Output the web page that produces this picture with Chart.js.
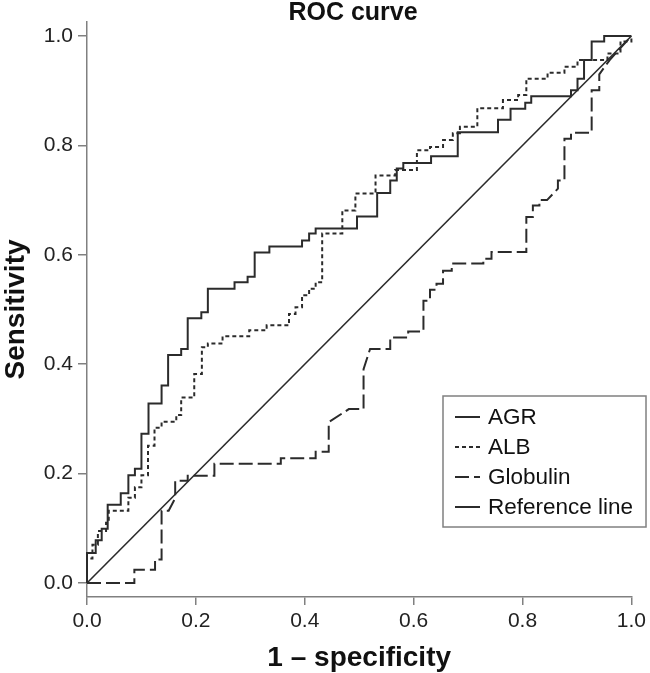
<!DOCTYPE html>
<html>
<head>
<meta charset="utf-8">
<script src="https://cdn.jsdelivr.net/npm/chart.js@4"></script>
<style>
html,body{margin:0;padding:0;background:#fff;}
canvas{display:block;}
</style>
</head>
<body>
<canvas id="c" width="650" height="673"></canvas>
<script>
// ---- data ----
const chartTitle = "ROC curve";
const xTitle = "1 \u2013 specificity";
const yTitle = "Sensitivity";
const tickValues = [0, 0.2, 0.4, 0.6, 0.8, 1.0];

// AGR: ROC steps (1-specificity where the rise occurs, sensitivity after the rise)
const agrX = [0, 0, 0.016, 0.027, 0.038, 0.062, 0.076, 0.088, 0.100, 0.113, 0.137, 0.149, 0.173, 0.185, 0.210, 0.222, 0.271, 0.295, 0.308, 0.335, 0.395, 0.408, 0.420, 0.496, 0.533, 0.557, 0.569, 0.581, 0.632, 0.681, 0.755, 0.778, 0.805, 0.816, 0.889, 0.901, 0.913, 0.927, 0.950, 1.0];
const agrY = [0, 0.055, 0.078, 0.099, 0.143, 0.164, 0.197, 0.209, 0.273, 0.328, 0.361, 0.417, 0.428, 0.484, 0.495, 0.538, 0.550, 0.560, 0.604, 0.615, 0.626, 0.639, 0.648, 0.670, 0.713, 0.736, 0.758, 0.768, 0.780, 0.824, 0.847, 0.867, 0.878, 0.890, 0.901, 0.922, 0.956, 0.990, 1.0, 1.0];

// ALB
const albX = [0, 0, 0.01, 0.02, 0.035, 0.04, 0.076, 0.088, 0.100, 0.112, 0.124, 0.137, 0.164, 0.173, 0.197, 0.211, 0.222, 0.249, 0.298, 0.33, 0.371, 0.383, 0.395, 0.408, 0.420, 0.432, 0.469, 0.493, 0.530, 0.566, 0.606, 0.630, 0.654, 0.672, 0.685, 0.717, 0.764, 0.792, 0.807, 0.846, 0.877, 0.901, 0.956, 0.98, 1.0];
const albY = [0, 0.045, 0.07, 0.095, 0.11, 0.132, 0.156, 0.175, 0.197, 0.251, 0.284, 0.295, 0.307, 0.339, 0.382, 0.431, 0.438, 0.451, 0.462, 0.471, 0.492, 0.504, 0.526, 0.538, 0.55, 0.639, 0.681, 0.712, 0.745, 0.755, 0.791, 0.797, 0.81, 0.822, 0.834, 0.868, 0.883, 0.892, 0.922, 0.933, 0.944, 0.956, 0.968, 0.99, 1.0];

// Globulin: corner points of the curve (includes tied diagonal pieces)
const gloX = [0, 0.087, 0.087, 0.125, 0.125, 0.137, 0.137, 0.150, 0.162, 0.162, 0.185, 0.185, 0.234, 0.234, 0.356, 0.356, 0.420, 0.420, 0.444, 0.444, 0.481, 0.508, 0.508, 0.520, 0.557, 0.557, 0.590, 0.590, 0.618, 0.618, 0.630, 0.630, 0.642, 0.642, 0.654, 0.654, 0.670, 0.670, 0.728, 0.728, 0.743, 0.743, 0.807, 0.807, 0.819, 0.819, 0.831, 0.831, 0.845, 0.865, 0.865, 0.877, 0.877, 0.889, 0.889, 0.927, 0.927, 0.941, 0.941, 0.96, 1.0];
const gloY = [0, 0, 0.024, 0.024, 0.043, 0.043, 0.132, 0.132, 0.155, 0.187, 0.187, 0.196, 0.196, 0.218, 0.218, 0.228, 0.228, 0.240, 0.240, 0.294, 0.318, 0.318, 0.391, 0.428, 0.428, 0.449, 0.449, 0.46, 0.46, 0.516, 0.516, 0.536, 0.536, 0.547, 0.547, 0.571, 0.571, 0.584, 0.584, 0.593, 0.593, 0.605, 0.605, 0.669, 0.669, 0.69, 0.69, 0.70, 0.70, 0.721, 0.736, 0.736, 0.812, 0.812, 0.823, 0.823, 0.901, 0.901, 0.93, 0.956, 1.0];

// Reference line
const refX = [0, 1];
const refY = [0, 1];

const seriesLabels = ["AGR", "ALB", "Globulin", "Reference line"];

// ---- chart ----
const pts = (xs, ys) => xs.map((x, i) => ({x: x, y: ys[i]}));
const INK = '#2b2b2b';
const AXIS = '#808080';
const FONT = "'Liberation Sans', Arial, sans-serif";

const datasets = [
  {label: seriesLabels[0], data: pts(agrX, agrY), stepped: 'before', borderColor: INK, borderWidth: 2, borderDash: []},
  {label: seriesLabels[1], data: pts(albX, albY), stepped: 'before', borderColor: INK, borderWidth: 2, borderDash: [4, 3]},
  {label: seriesLabels[2], data: pts(gloX, gloY), stepped: false, borderColor: INK, borderWidth: 2, borderDash: [14, 5]},
  {label: seriesLabels[3], data: pts(refX, refY), stepped: false, borderColor: INK, borderWidth: 1.6, borderDash: []}
].map(d => Object.assign(d, {showLine: true, pointRadius: 0, fill: false, tension: 0, clip: 6}));

const decor = {
  id: 'decor',
  afterDraw(chart) {
    const ctx = chart.ctx;
    const ca = chart.chartArea;
    const xs = chart.scales.x;
    ctx.save();
    ctx.fillStyle = '#111';
    ctx.textAlign = 'center';
    ctx.textBaseline = 'middle';
    const cx = (xs.getPixelForValue(0) + xs.getPixelForValue(1)) / 2;
    ctx.font = "bold 25px " + FONT;
    ctx.fillText(chartTitle, 353, 13);
    ctx.font = "bold 28px " + FONT;
    ctx.fillText(xTitle, cx, 658);
    ctx.save();
    ctx.translate(16, (ca.top + ca.bottom) / 2);
    ctx.rotate(-Math.PI / 2);
    ctx.fillText(yTitle, 0, 0);
    ctx.restore();

    // legend box
    const bx = 443, by = 396, bw = 203, bh = 131;
    ctx.fillStyle = '#fff';
    ctx.fillRect(bx, by, bw, bh);
    ctx.strokeStyle = AXIS;
    ctx.lineWidth = 1.5;
    ctx.strokeRect(bx, by, bw, bh);
    const rowsY = [417, 447, 477, 507];
    ctx.font = "22.5px " + FONT;
    ctx.textAlign = 'left';
    chart.data.datasets.forEach((d, i) => {
      const y = rowsY[i];
      ctx.beginPath();
      ctx.setLineDash(d.borderDash || []);
      ctx.strokeStyle = d.borderColor;
      ctx.lineWidth = 2;
      ctx.moveTo(455, y);
      ctx.lineTo(480, y);
      ctx.stroke();
      ctx.setLineDash([]);
      ctx.fillStyle = '#111';
      ctx.fillText(d.label, 488, y + 1);
    });
    ctx.restore();
  }
};

new Chart(document.getElementById('c'), {
  type: 'scatter',
  data: {datasets: datasets},
  plugins: [decor],
  options: {
    responsive: false,
    animation: false,
    events: [],
    layout: {padding: {left: 0, right: 17, top: 22, bottom: 0}},
    plugins: {legend: {display: false}, title: {display: false}, tooltip: {enabled: false}},
    scales: {
      x: {
        type: 'linear', min: 0, max: 1,
        afterFit(s) { s.height = 76; },
        afterBuildTicks(s) { s.ticks = tickValues.map(v => ({value: v})); },
        ticks: {color: '#222', font: {family: FONT, size: 21}, padding: 4, maxRotation: 0,
                callback: v => Number(v).toFixed(1)},
        grid: {drawOnChartArea: false, drawTicks: true, tickLength: 8, color: AXIS, lineWidth: 1.5},
        border: {display: true, color: AXIS, width: 1.5}
      },
      y: {
        type: 'linear', min: -0.0256, max: 1.0256,
        afterFit(s) { s.width = 87; },
        afterBuildTicks(s) { s.ticks = tickValues.map(v => ({value: v})); },
        ticks: {color: '#222', font: {family: FONT, size: 21}, padding: 5,
                callback: v => Number(v).toFixed(1)},
        grid: {drawOnChartArea: false, drawTicks: true, tickLength: 9, color: AXIS, lineWidth: 1.5},
        border: {display: true, color: AXIS, width: 1.5}
      }
    }
  }
});
</script>
</body>
</html>
